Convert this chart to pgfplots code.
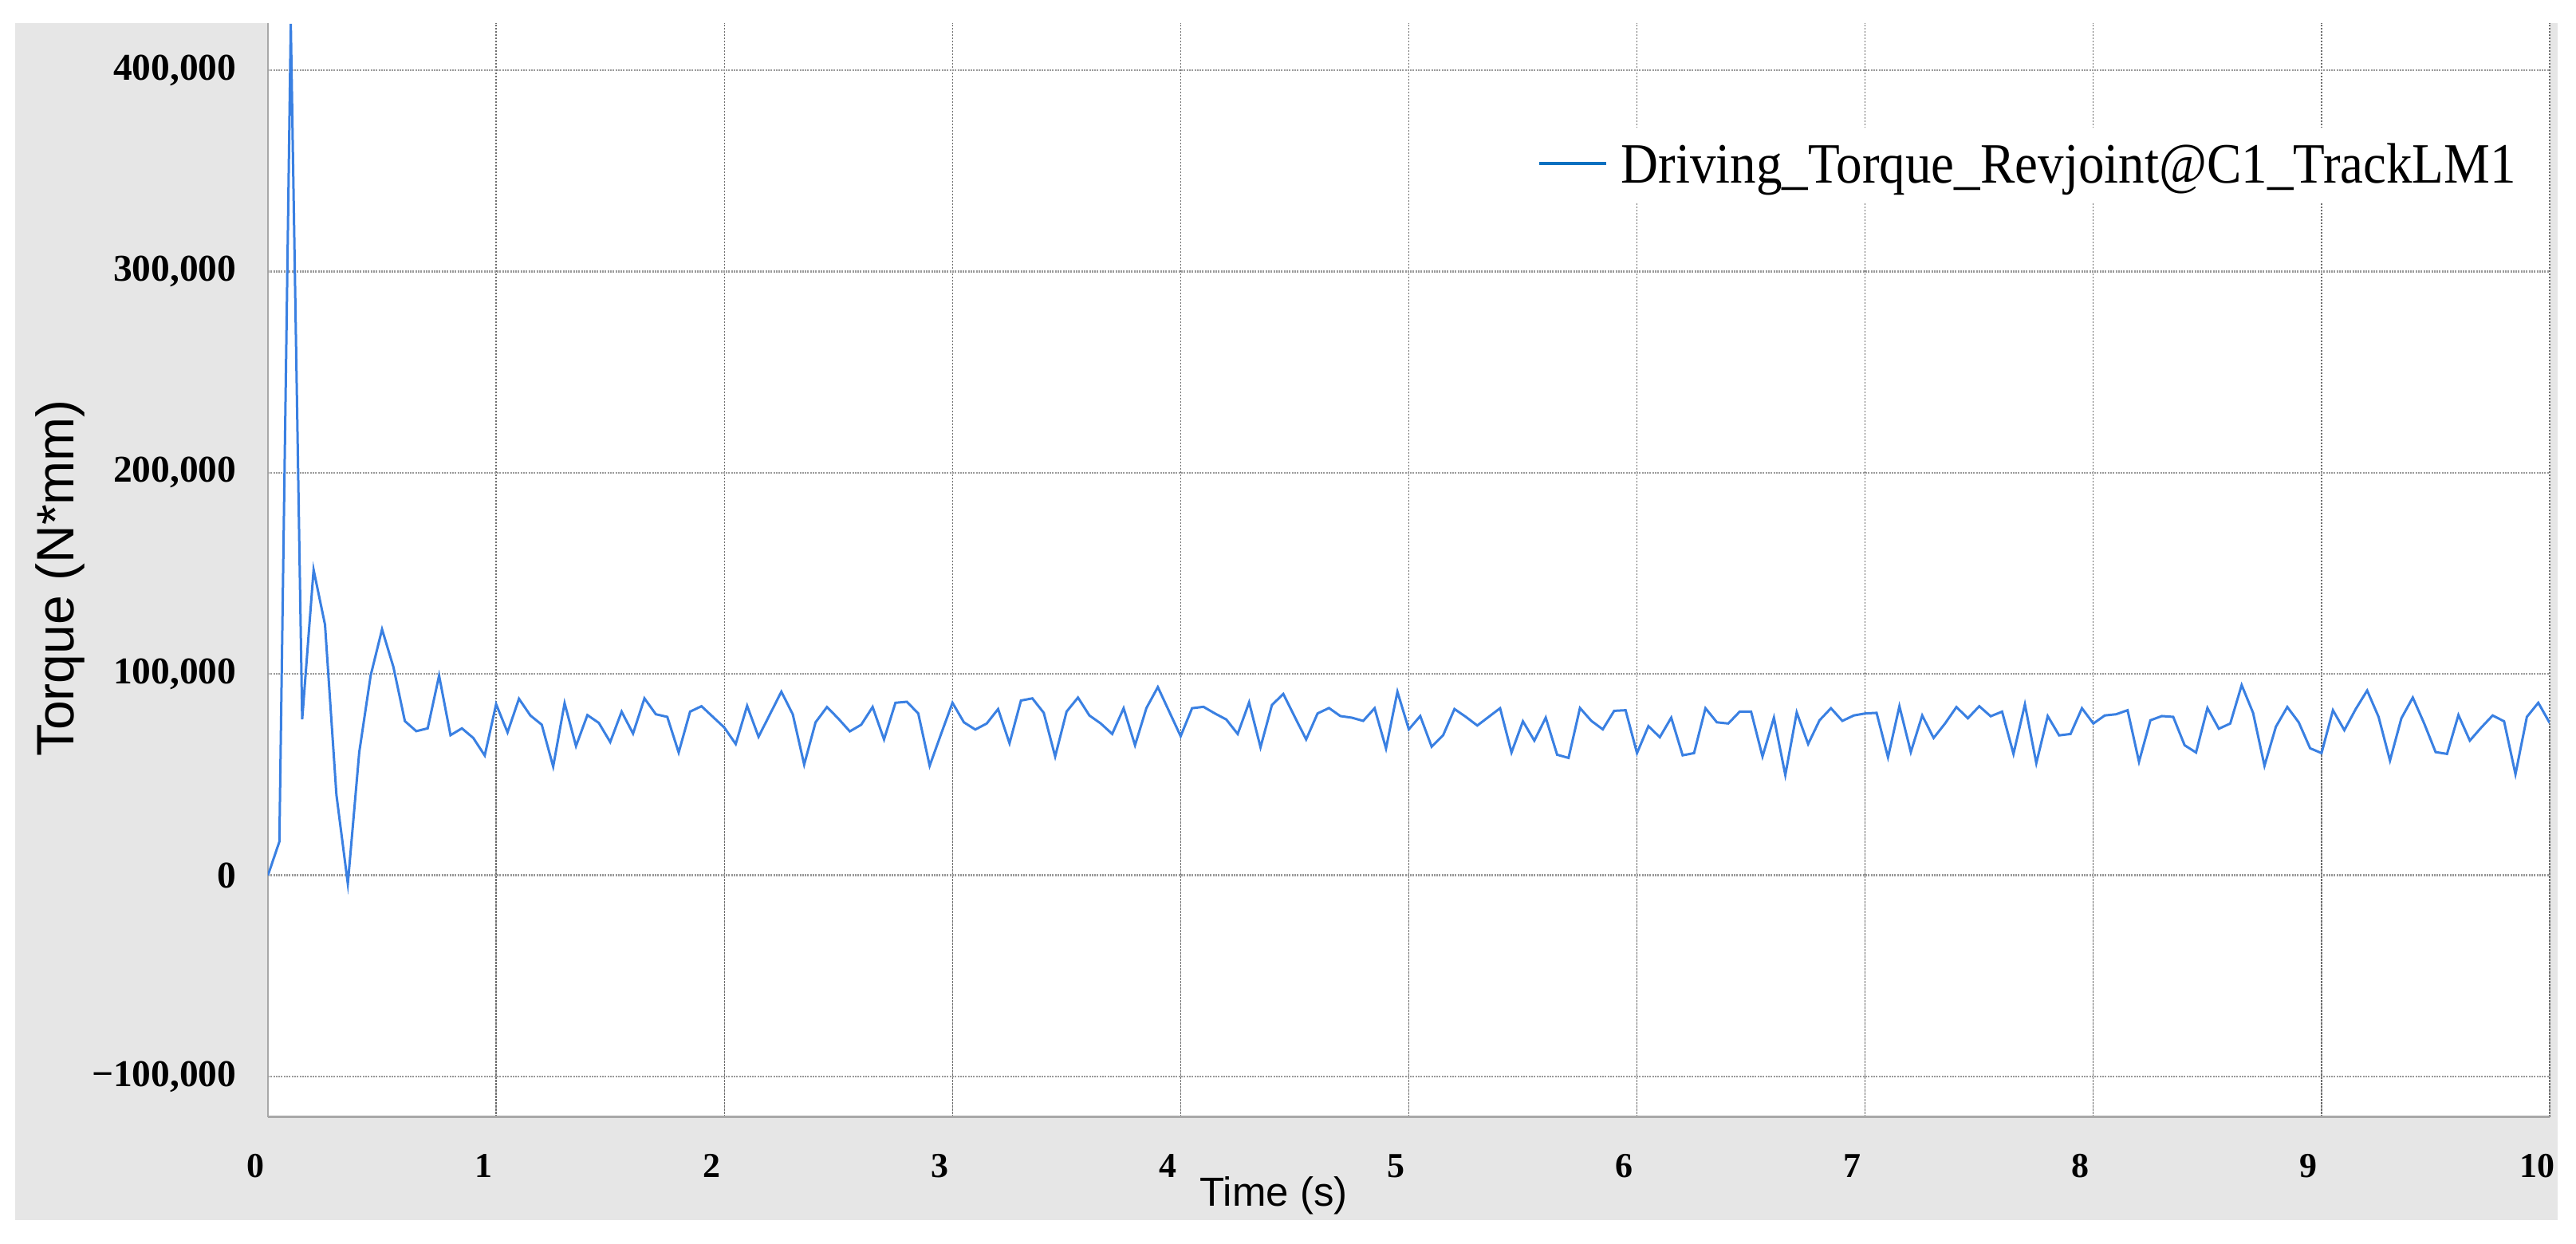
\documentclass[border=0pt]{standalone}
\usepackage{fontspec}
\setmainfont{Liberation Serif}
\newfontfamily\sansf{Liberation Sans}
\usepackage{pgfplots}
\pgfplotsset{compat=1.18}
\usepackage{graphicx}
\definecolor{panelgray}{HTML}{E6E6E6}
\definecolor{datablue}{HTML}{3A80E2}
\definecolor{legblue}{HTML}{0A70C0}
\definecolor{vgrid}{HTML}{6E6E6E}
\definecolor{hgrid}{HTML}{9A9A9A}
\definecolor{axgray}{HTML}{A8A8A8}
\pgfplotstableread{
t v
0.00 0
0.05 16.7
0.10 423
0.15 77.5
0.20 151.8
0.25 124.5
0.30 40
0.35 -4.2
0.40 61.1
0.45 99.2
0.50 122.2
0.55 103.4
0.60 76.6
0.65 71.6
0.70 73
0.75 99.2
0.80 69.6
0.85 73
0.90 68.2
0.95 59.5
1.00 85
1.05 71
1.10 87.7
1.15 79.4
1.20 74.8
1.25 54
1.30 85.5
1.35 64.2
1.40 79.6
1.45 75.7
1.50 66.2
1.55 81.3
1.60 70.4
1.65 87.9
1.70 80
1.75 78.7
1.80 61
1.85 81.3
1.90 84
1.95 78.7
2.00 73.4
2.05 65.2
2.10 84.2
2.15 68.8
2.20 80
2.25 91.2
2.30 80
2.35 55
2.40 76
2.45 83.6
2.50 77.8
2.55 71.5
2.60 74.8
2.65 83.6
2.70 67.5
2.75 85.7
2.80 86.2
2.85 80.4
2.90 54.4
2.95 70.2
3.00 85.7
3.05 76
3.10 72.4
3.15 75.4
3.20 82.6
3.25 65.6
3.30 86.8
3.35 87.9
3.40 80.7
3.45 59
3.50 81.3
3.55 88.3
3.60 79.4
3.65 75.4
3.70 70.2
3.75 83
3.80 64.6
3.85 83.1
3.90 93.5
3.95 81.3
4.00 69.1
4.05 83
4.10 83.7
4.15 80.4
4.20 77.4
4.25 70.2
4.30 85.9
4.35 63.6
4.40 84.6
4.45 90.1
4.50 78.7
4.55 67.5
4.60 80.4
4.65 83.1
4.70 79.1
4.75 78.3
4.80 76.7
4.85 83
4.90 63
4.95 91.2
5.00 72.5
5.05 79.1
5.10 63.9
5.15 69.5
5.20 82.6
5.25 78.7
5.30 74.4
5.35 78.7
5.40 83
5.45 61
5.50 76.5
5.55 66.9
5.60 78.3
5.65 59.9
5.70 58.3
5.75 83.1
5.80 76.7
5.85 72.5
5.90 81.7
5.95 82
6.00 60.7
6.05 74.1
6.10 68.6
6.15 78.3
6.20 59.6
6.25 60.7
6.30 83
6.35 76
6.40 75.4
6.45 81.3
6.50 81.3
6.55 59
6.60 78.3
6.65 49.8
6.70 80.9
6.75 65.2
6.80 77
6.85 83
6.90 76.7
6.95 79.4
7.00 80.4
7.05 80.7
7.10 58.6
7.15 84
7.20 61.2
7.25 79.4
7.30 68.2
7.35 75.4
7.40 83.6
7.45 78
7.50 84
7.55 79
7.60 81.3
7.65 60.3
7.70 84.9
7.75 55.7
7.80 79.1
7.85 69.5
7.90 70.2
7.95 83
8.00 75.4
8.05 79.4
8.10 80
8.15 82
8.20 56.4
8.25 77
8.30 79.1
8.35 78.7
8.40 64.6
8.45 61
8.50 83.1
8.55 72.8
8.60 75.4
8.65 94.5
8.70 80.7
8.75 54.4
8.80 73.8
8.85 83.6
8.90 76
8.95 63.1
9.00 60.7
9.05 82
9.10 72.1
9.15 82.6
9.20 91.8
9.25 78.7
9.30 57
9.35 78
9.40 88.3
9.45 75.4
9.50 61.2
9.55 60.3
9.60 79.6
9.65 66.9
9.70 73.4
9.75 79.4
9.80 76.5
9.85 50.2
9.90 78.7
9.95 85.7
10.00 75.7
}\torquedata
\begin{document}
\begin{tikzpicture}
\useasboundingbox (0,0) rectangle (323mm,156mm);
\fill[panelgray] (1.9mm,3.0mm) rectangle (320.7mm,153.1mm);
\begin{axis}[
  at={(33.6mm,15.9mm)}, anchor=south west,
  scale only axis, width=286.1mm, height=137.2mm,
  xmin=0, xmax=10, ymin=-120.2, ymax=423.4,
  axis background/.style={fill=white},
  axis x line*=bottom, axis y line*=left,
  x axis line style={draw=axgray, line width=0.3mm},
  y axis line style={draw=axgray, line width=0.2mm},
  major tick length=0pt,
  xtick={0,1,2,3,4,5,6,7,8,9,10},
  xticklabels={0,1,2,3,4,5,6,7,8,9,10},
  ytick={-100,0,100,200,300,400},
  yticklabels={{−100,000},{0},{100,000},{200,000},{300,000},{400,000}},
  xticklabel style={font=\fontsize{12.5}{14}\selectfont\bfseries, anchor=north, inner sep=0pt, yshift=-4.6mm, xshift=-1.6mm},
  yticklabel style={font=\fontsize{13.5}{15}\selectfont\bfseries, anchor=east, inner sep=0pt, xshift=-3.9mm},
  grid=major,
  x grid style={draw=vgrid, line width=0.13mm, dash pattern=on 0.25mm off 0.15mm},
  y grid style={draw=hgrid, line width=0.25mm, dash pattern=on 0.2mm off 0.13mm},
  legend style={at={(0.5526,0.870)}, anchor=west, draw=none, fill=white,
    inner xsep=1mm, inner ysep=2mm,
    nodes={inner sep=0pt, text depth=0.15em},
    font=\fontsize{18.5}{20}\selectfont,
    /tikz/every odd column/.append style={column sep=1.7mm}},
  legend image code/.code={\path[draw=none, fill=none] (0mm,-0.45mm) rectangle (8.4mm,0.45mm);
    \draw[draw=legblue, line width=0.4mm] (0mm,0.25mm) -- (8.4mm,0.25mm);},
]
\addplot[color=datablue, line width=0.3mm, mark=none] table[x=t, y=v] {\torquedata};
\addlegendentry{\scalebox{1}[1.1]{Driving\_Torque\_Revjoint@C1\_TrackLM1}}
\end{axis}
\node[rotate=90, anchor=base, font=\sansf\fontsize{18.8}{20}\selectfont] at (9.2mm,83.5mm) {Torque (N*mm)};
\node[anchor=base west, inner sep=0pt, font=\sansf\fontsize{14.5}{16}\selectfont] at (150.4mm,4.7mm) {Time (s)};
\end{tikzpicture}
\end{document}
